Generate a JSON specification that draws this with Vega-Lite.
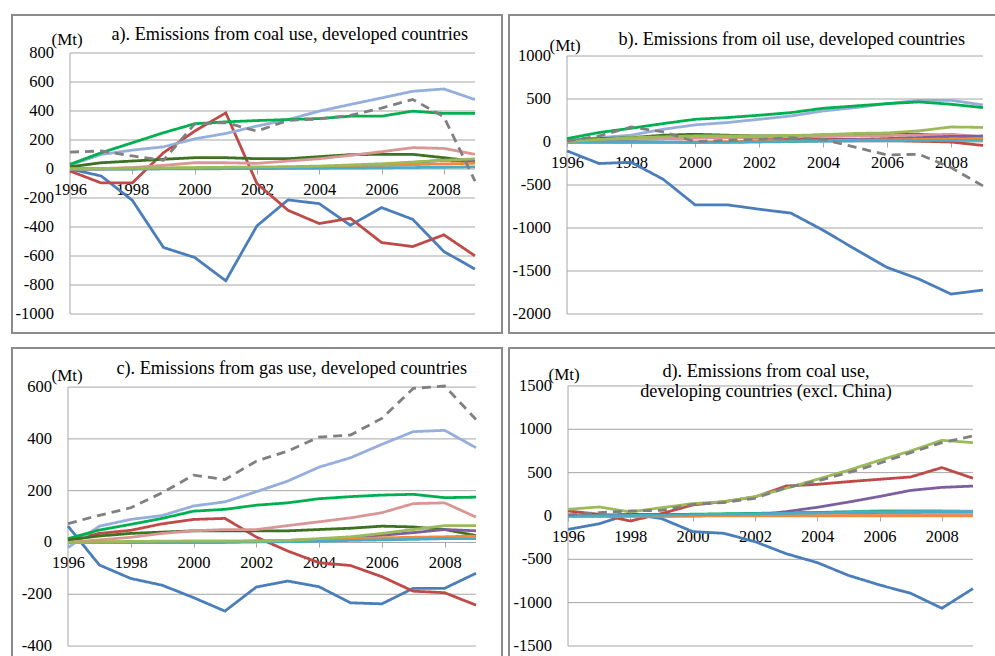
{
"$schema": "https://vega.github.io/schema/vega-lite/v6.json",
"padding": {"left": 11, "top": 14, "right": 0, "bottom": 0},
"background": "white",
"datasets": {
"a": [
{"series":"blue","year":1996,"value":0},{"series":"blue","year":1997,"value":-48},{"series":"blue","year":1998,"value":-216},{"series":"blue","year":1999,"value":-541},{"series":"blue","year":2000,"value":-610},{"series":"blue","year":2001,"value":-771},{"series":"blue","year":2002,"value":-392},{"series":"blue","year":2003,"value":-213},{"series":"blue","year":2004,"value":-239},{"series":"blue","year":2005,"value":-388},{"series":"blue","year":2006,"value":-266},{"series":"blue","year":2007,"value":-347},{"series":"blue","year":2008,"value":-569},{"series":"blue","year":2009,"value":-690},
{"series":"red","year":1996,"value":-14},{"series":"red","year":1997,"value":-96},{"series":"red","year":1998,"value":-96},{"series":"red","year":1999,"value":112},{"series":"red","year":2000,"value":261},{"series":"red","year":2001,"value":387},{"series":"red","year":2002,"value":-100},{"series":"red","year":2003,"value":-285},{"series":"red","year":2004,"value":-376},{"series":"red","year":2005,"value":-340},{"series":"red","year":2006,"value":-507},{"series":"red","year":2007,"value":-535},{"series":"red","year":2008,"value":-454},{"series":"red","year":2009,"value":-599},
{"series":"lightblue","year":1996,"value":27},{"series":"lightblue","year":1997,"value":100},{"series":"lightblue","year":1998,"value":130},{"series":"lightblue","year":1999,"value":153},{"series":"lightblue","year":2000,"value":208},{"series":"lightblue","year":2001,"value":245},{"series":"lightblue","year":2002,"value":296},{"series":"lightblue","year":2003,"value":341},{"series":"lightblue","year":2004,"value":399},{"series":"lightblue","year":2005,"value":445},{"series":"lightblue","year":2006,"value":490},{"series":"lightblue","year":2007,"value":536},{"series":"lightblue","year":2008,"value":552},{"series":"lightblue","year":2009,"value":479},
{"series":"green","year":1996,"value":32},{"series":"green","year":1997,"value":112},{"series":"green","year":1998,"value":181},{"series":"green","year":1999,"value":250},{"series":"green","year":2000,"value":312},{"series":"green","year":2001,"value":325},{"series":"green","year":2002,"value":334},{"series":"green","year":2003,"value":341},{"series":"green","year":2004,"value":348},{"series":"green","year":2005,"value":364},{"series":"green","year":2006,"value":364},{"series":"green","year":2007,"value":399},{"series":"green","year":2008,"value":383},{"series":"green","year":2009,"value":383},
{"series":"darkgreen","year":1996,"value":15},{"series":"darkgreen","year":1997,"value":43},{"series":"darkgreen","year":1998,"value":55},{"series":"darkgreen","year":1999,"value":67},{"series":"darkgreen","year":2000,"value":78},{"series":"darkgreen","year":2001,"value":78},{"series":"darkgreen","year":2002,"value":71},{"series":"darkgreen","year":2003,"value":71},{"series":"darkgreen","year":2004,"value":85},{"series":"darkgreen","year":2005,"value":99},{"series":"darkgreen","year":2006,"value":101},{"series":"darkgreen","year":2007,"value":101},{"series":"darkgreen","year":2008,"value":78},{"series":"darkgreen","year":2009,"value":53},
{"series":"pink","year":1996,"value":0},{"series":"pink","year":1997,"value":3},{"series":"pink","year":1998,"value":10},{"series":"pink","year":1999,"value":25},{"series":"pink","year":2000,"value":43},{"series":"pink","year":2001,"value":43},{"series":"pink","year":2002,"value":39},{"series":"pink","year":2003,"value":55},{"series":"pink","year":2004,"value":71},{"series":"pink","year":2005,"value":94},{"series":"pink","year":2006,"value":119},{"series":"pink","year":2007,"value":147},{"series":"pink","year":2008,"value":142},{"series":"pink","year":2009,"value":101},
{"series":"purple","year":1996,"value":0},{"series":"purple","year":1997,"value":0},{"series":"purple","year":1998,"value":1},{"series":"purple","year":1999,"value":2},{"series":"purple","year":2000,"value":3},{"series":"purple","year":2001,"value":4},{"series":"purple","year":2002,"value":5},{"series":"purple","year":2003,"value":8},{"series":"purple","year":2004,"value":12},{"series":"purple","year":2005,"value":20},{"series":"purple","year":2006,"value":30},{"series":"purple","year":2007,"value":45},{"series":"purple","year":2008,"value":60},{"series":"purple","year":2009,"value":55},
{"series":"orange","year":1996,"value":0},{"series":"orange","year":1997,"value":0},{"series":"orange","year":1998,"value":2},{"series":"orange","year":1999,"value":4},{"series":"orange","year":2000,"value":6},{"series":"orange","year":2001,"value":8},{"series":"orange","year":2002,"value":10},{"series":"orange","year":2003,"value":12},{"series":"orange","year":2004,"value":16},{"series":"orange","year":2005,"value":20},{"series":"orange","year":2006,"value":24},{"series":"orange","year":2007,"value":30},{"series":"orange","year":2008,"value":35},{"series":"orange","year":2009,"value":40},
{"series":"teal","year":1996,"value":0},{"series":"teal","year":1997,"value":0},{"series":"teal","year":1998,"value":0},{"series":"teal","year":1999,"value":1},{"series":"teal","year":2000,"value":1},{"series":"teal","year":2001,"value":2},{"series":"teal","year":2002,"value":3},{"series":"teal","year":2003,"value":4},{"series":"teal","year":2004,"value":5},{"series":"teal","year":2005,"value":6},{"series":"teal","year":2006,"value":8},{"series":"teal","year":2007,"value":10},{"series":"teal","year":2008,"value":12},{"series":"teal","year":2009,"value":15},
{"series":"olive","year":1996,"value":0},{"series":"olive","year":1997,"value":3},{"series":"olive","year":1998,"value":6},{"series":"olive","year":1999,"value":8},{"series":"olive","year":2000,"value":10},{"series":"olive","year":2001,"value":12},{"series":"olive","year":2002,"value":14},{"series":"olive","year":2003,"value":16},{"series":"olive","year":2004,"value":20},{"series":"olive","year":2005,"value":28},{"series":"olive","year":2006,"value":36},{"series":"olive","year":2007,"value":48},{"series":"olive","year":2008,"value":60},{"series":"olive","year":2009,"value":70},
{"series":"total","year":1996,"value":117},{"series":"total","year":1997,"value":124},{"series":"total","year":1998,"value":90},{"series":"total","year":1999,"value":60},{"series":"total","year":2000,"value":310},{"series":"total","year":2001,"value":320},{"series":"total","year":2002,"value":261},{"series":"total","year":2003,"value":335},{"series":"total","year":2004,"value":345},{"series":"total","year":2005,"value":370},{"series":"total","year":2006,"value":420},{"series":"total","year":2007,"value":480},{"series":"total","year":2008,"value":360},{"series":"total","year":2009,"value":-83}
],
"b": [
{"series":"blue","year":1996,"value":-103},{"series":"blue","year":1997,"value":-250},{"series":"blue","year":1998,"value":-235},{"series":"blue","year":1999,"value":-432},{"series":"blue","year":2000,"value":-730},{"series":"blue","year":2001,"value":-730},{"series":"blue","year":2002,"value":-781},{"series":"blue","year":2003,"value":-827},{"series":"blue","year":2004,"value":-1025},{"series":"blue","year":2005,"value":-1245},{"series":"blue","year":2006,"value":-1458},{"series":"blue","year":2007,"value":-1594},{"series":"blue","year":2008,"value":-1768},{"series":"blue","year":2009,"value":-1722},
{"series":"red","year":1996,"value":0},{"series":"red","year":1997,"value":20},{"series":"red","year":1998,"value":30},{"series":"red","year":1999,"value":40},{"series":"red","year":2000,"value":50},{"series":"red","year":2001,"value":55},{"series":"red","year":2002,"value":45},{"series":"red","year":2003,"value":40},{"series":"red","year":2004,"value":35},{"series":"red","year":2005,"value":30},{"series":"red","year":2006,"value":20},{"series":"red","year":2007,"value":10},{"series":"red","year":2008,"value":0},{"series":"red","year":2009,"value":-40},
{"series":"lightblue","year":1996,"value":20},{"series":"lightblue","year":1997,"value":50},{"series":"lightblue","year":1998,"value":79},{"series":"lightblue","year":1999,"value":148},{"series":"lightblue","year":2000,"value":199},{"series":"lightblue","year":2001,"value":226},{"series":"lightblue","year":2002,"value":264},{"series":"lightblue","year":2003,"value":303},{"series":"lightblue","year":2004,"value":361},{"series":"lightblue","year":2005,"value":400},{"series":"lightblue","year":2006,"value":446},{"series":"lightblue","year":2007,"value":485},{"series":"lightblue","year":2008,"value":485},{"series":"lightblue","year":2009,"value":431},
{"series":"green","year":1996,"value":40},{"series":"green","year":1997,"value":110},{"series":"green","year":1998,"value":160},{"series":"green","year":1999,"value":214},{"series":"green","year":2000,"value":264},{"series":"green","year":2001,"value":284},{"series":"green","year":2002,"value":311},{"series":"green","year":2003,"value":342},{"series":"green","year":2004,"value":392},{"series":"green","year":2005,"value":419},{"series":"green","year":2006,"value":446},{"series":"green","year":2007,"value":466},{"series":"green","year":2008,"value":439},{"series":"green","year":2009,"value":400},
{"series":"darkgreen","year":1996,"value":12},{"series":"darkgreen","year":1997,"value":40},{"series":"darkgreen","year":1998,"value":50},{"series":"darkgreen","year":1999,"value":79},{"series":"darkgreen","year":2000,"value":90},{"series":"darkgreen","year":2001,"value":79},{"series":"darkgreen","year":2002,"value":70},{"series":"darkgreen","year":2003,"value":70},{"series":"darkgreen","year":2004,"value":82},{"series":"darkgreen","year":2005,"value":90},{"series":"darkgreen","year":2006,"value":90},{"series":"darkgreen","year":2007,"value":90},{"series":"darkgreen","year":2008,"value":70},{"series":"darkgreen","year":2009,"value":50},
{"series":"pink","year":1996,"value":0},{"series":"pink","year":1997,"value":20},{"series":"pink","year":1998,"value":35},{"series":"pink","year":1999,"value":40},{"series":"pink","year":2000,"value":45},{"series":"pink","year":2001,"value":50},{"series":"pink","year":2002,"value":55},{"series":"pink","year":2003,"value":60},{"series":"pink","year":2004,"value":65},{"series":"pink","year":2005,"value":70},{"series":"pink","year":2006,"value":75},{"series":"pink","year":2007,"value":80},{"series":"pink","year":2008,"value":90},{"series":"pink","year":2009,"value":60},
{"series":"purple","year":1996,"value":0},{"series":"purple","year":1997,"value":0},{"series":"purple","year":1998,"value":0},{"series":"purple","year":1999,"value":-2},{"series":"purple","year":2000,"value":-3},{"series":"purple","year":2001,"value":0},{"series":"purple","year":2002,"value":5},{"series":"purple","year":2003,"value":10},{"series":"purple","year":2004,"value":20},{"series":"purple","year":2005,"value":30},{"series":"purple","year":2006,"value":40},{"series":"purple","year":2007,"value":50},{"series":"purple","year":2008,"value":65},{"series":"purple","year":2009,"value":70},
{"series":"orange","year":1996,"value":0},{"series":"orange","year":1997,"value":0},{"series":"orange","year":1998,"value":-5},{"series":"orange","year":1999,"value":-5},{"series":"orange","year":2000,"value":0},{"series":"orange","year":2001,"value":5},{"series":"orange","year":2002,"value":10},{"series":"orange","year":2003,"value":10},{"series":"orange","year":2004,"value":15},{"series":"orange","year":2005,"value":20},{"series":"orange","year":2006,"value":25},{"series":"orange","year":2007,"value":30},{"series":"orange","year":2008,"value":35},{"series":"orange","year":2009,"value":40},
{"series":"teal","year":1996,"value":0},{"series":"teal","year":1997,"value":0},{"series":"teal","year":1998,"value":0},{"series":"teal","year":1999,"value":0},{"series":"teal","year":2000,"value":-5},{"series":"teal","year":2001,"value":-5},{"series":"teal","year":2002,"value":0},{"series":"teal","year":2003,"value":5},{"series":"teal","year":2004,"value":10},{"series":"teal","year":2005,"value":15},{"series":"teal","year":2006,"value":15},{"series":"teal","year":2007,"value":20},{"series":"teal","year":2008,"value":20},{"series":"teal","year":2009,"value":20},
{"series":"olive","year":1996,"value":5},{"series":"olive","year":1997,"value":30},{"series":"olive","year":1998,"value":50},{"series":"olive","year":1999,"value":60},{"series":"olive","year":2000,"value":70},{"series":"olive","year":2001,"value":70},{"series":"olive","year":2002,"value":70},{"series":"olive","year":2003,"value":75},{"series":"olive","year":2004,"value":85},{"series":"olive","year":2005,"value":100},{"series":"olive","year":2006,"value":105},{"series":"olive","year":2007,"value":130},{"series":"olive","year":2008,"value":175},{"series":"olive","year":2009,"value":170},
{"series":"total","year":1996,"value":12},{"series":"total","year":1997,"value":70},{"series":"total","year":1998,"value":175},{"series":"total","year":1999,"value":117},{"series":"total","year":2000,"value":5},{"series":"total","year":2001,"value":20},{"series":"total","year":2002,"value":30},{"series":"total","year":2003,"value":50},{"series":"total","year":2004,"value":30},{"series":"total","year":2005,"value":-60},{"series":"total","year":2006,"value":-150},{"series":"total","year":2007,"value":-142},{"series":"total","year":2008,"value":-297},{"series":"total","year":2009,"value":-510}
],
"c": [
{"series":"blue","year":1996,"value":63},{"series":"blue","year":1997,"value":-87},{"series":"blue","year":1998,"value":-139},{"series":"blue","year":1999,"value":-165},{"series":"blue","year":2000,"value":-213},{"series":"blue","year":2001,"value":-265},{"series":"blue","year":2002,"value":-172},{"series":"blue","year":2003,"value":-149},{"series":"blue","year":2004,"value":-171},{"series":"blue","year":2005,"value":-233},{"series":"blue","year":2006,"value":-237},{"series":"blue","year":2007,"value":-177},{"series":"blue","year":2008,"value":-177},{"series":"blue","year":2009,"value":-119},
{"series":"red","year":1996,"value":8},{"series":"red","year":1997,"value":35},{"series":"red","year":1998,"value":47},{"series":"red","year":1999,"value":72},{"series":"red","year":2000,"value":89},{"series":"red","year":2001,"value":93},{"series":"red","year":2002,"value":21},{"series":"red","year":2003,"value":-33},{"series":"red","year":2004,"value":-78},{"series":"red","year":2005,"value":-89},{"series":"red","year":2006,"value":-132},{"series":"red","year":2007,"value":-188},{"series":"red","year":2008,"value":-194},{"series":"red","year":2009,"value":-242},
{"series":"lightblue","year":1996,"value":-20},{"series":"lightblue","year":1997,"value":63},{"series":"lightblue","year":1998,"value":89},{"series":"lightblue","year":1999,"value":104},{"series":"lightblue","year":2000,"value":141},{"series":"lightblue","year":2001,"value":157},{"series":"lightblue","year":2002,"value":196},{"series":"lightblue","year":2003,"value":237},{"series":"lightblue","year":2004,"value":291},{"series":"lightblue","year":2005,"value":327},{"series":"lightblue","year":2006,"value":379},{"series":"lightblue","year":2007,"value":428},{"series":"lightblue","year":2008,"value":433},{"series":"lightblue","year":2009,"value":366},
{"series":"green","year":1996,"value":15},{"series":"green","year":1997,"value":48},{"series":"green","year":1998,"value":70},{"series":"green","year":1999,"value":93},{"series":"green","year":2000,"value":121},{"series":"green","year":2001,"value":128},{"series":"green","year":2002,"value":144},{"series":"green","year":2003,"value":153},{"series":"green","year":2004,"value":169},{"series":"green","year":2005,"value":177},{"series":"green","year":2006,"value":183},{"series":"green","year":2007,"value":186},{"series":"green","year":2008,"value":173},{"series":"green","year":2009,"value":175},
{"series":"darkgreen","year":1996,"value":10},{"series":"darkgreen","year":1997,"value":25},{"series":"darkgreen","year":1998,"value":35},{"series":"darkgreen","year":1999,"value":40},{"series":"darkgreen","year":2000,"value":45},{"series":"darkgreen","year":2001,"value":45},{"series":"darkgreen","year":2002,"value":45},{"series":"darkgreen","year":2003,"value":45},{"series":"darkgreen","year":2004,"value":50},{"series":"darkgreen","year":2005,"value":55},{"series":"darkgreen","year":2006,"value":63},{"series":"darkgreen","year":2007,"value":60},{"series":"darkgreen","year":2008,"value":50},{"series":"darkgreen","year":2009,"value":27},
{"series":"pink","year":1996,"value":0},{"series":"pink","year":1997,"value":10},{"series":"pink","year":1998,"value":20},{"series":"pink","year":1999,"value":35},{"series":"pink","year":2000,"value":45},{"series":"pink","year":2001,"value":50},{"series":"pink","year":2002,"value":50},{"series":"pink","year":2003,"value":65},{"series":"pink","year":2004,"value":80},{"series":"pink","year":2005,"value":95},{"series":"pink","year":2006,"value":115},{"series":"pink","year":2007,"value":150},{"series":"pink","year":2008,"value":153},{"series":"pink","year":2009,"value":98},
{"series":"purple","year":1996,"value":0},{"series":"purple","year":1997,"value":0},{"series":"purple","year":1998,"value":0},{"series":"purple","year":1999,"value":0},{"series":"purple","year":2000,"value":0},{"series":"purple","year":2001,"value":2},{"series":"purple","year":2002,"value":5},{"series":"purple","year":2003,"value":8},{"series":"purple","year":2004,"value":12},{"series":"purple","year":2005,"value":18},{"series":"purple","year":2006,"value":28},{"series":"purple","year":2007,"value":38},{"series":"purple","year":2008,"value":50},{"series":"purple","year":2009,"value":45},
{"series":"orange","year":1996,"value":0},{"series":"orange","year":1997,"value":2},{"series":"orange","year":1998,"value":3},{"series":"orange","year":1999,"value":4},{"series":"orange","year":2000,"value":5},{"series":"orange","year":2001,"value":5},{"series":"orange","year":2002,"value":6},{"series":"orange","year":2003,"value":8},{"series":"orange","year":2004,"value":10},{"series":"orange","year":2005,"value":14},{"series":"orange","year":2006,"value":18},{"series":"orange","year":2007,"value":20},{"series":"orange","year":2008,"value":22},{"series":"orange","year":2009,"value":25},
{"series":"teal","year":1996,"value":0},{"series":"teal","year":1997,"value":0},{"series":"teal","year":1998,"value":0},{"series":"teal","year":1999,"value":0},{"series":"teal","year":2000,"value":0},{"series":"teal","year":2001,"value":0},{"series":"teal","year":2002,"value":2},{"series":"teal","year":2003,"value":3},{"series":"teal","year":2004,"value":5},{"series":"teal","year":2005,"value":8},{"series":"teal","year":2006,"value":10},{"series":"teal","year":2007,"value":12},{"series":"teal","year":2008,"value":15},{"series":"teal","year":2009,"value":15},
{"series":"olive","year":1996,"value":0},{"series":"olive","year":1997,"value":2},{"series":"olive","year":1998,"value":4},{"series":"olive","year":1999,"value":5},{"series":"olive","year":2000,"value":5},{"series":"olive","year":2001,"value":5},{"series":"olive","year":2002,"value":5},{"series":"olive","year":2003,"value":8},{"series":"olive","year":2004,"value":15},{"series":"olive","year":2005,"value":22},{"series":"olive","year":2006,"value":35},{"series":"olive","year":2007,"value":50},{"series":"olive","year":2008,"value":65},{"series":"olive","year":2009,"value":65},
{"series":"total","year":1996,"value":73},{"series":"total","year":1997,"value":105},{"series":"total","year":1998,"value":134},{"series":"total","year":1999,"value":192},{"series":"total","year":2000,"value":260},{"series":"total","year":2001,"value":243},{"series":"total","year":2002,"value":314},{"series":"total","year":2003,"value":353},{"series":"total","year":2004,"value":407},{"series":"total","year":2005,"value":415},{"series":"total","year":2006,"value":479},{"series":"total","year":2007,"value":595},{"series":"total","year":2008,"value":604},{"series":"total","year":2009,"value":475}
],
"d": [
{"series":"blue","year":1996,"value":-155},{"series":"blue","year":1997,"value":-90},{"series":"blue","year":1998,"value":25},{"series":"blue","year":1999,"value":-30},{"series":"blue","year":2000,"value":-180},{"series":"blue","year":2001,"value":-200},{"series":"blue","year":2002,"value":-296},{"series":"blue","year":2003,"value":-435},{"series":"blue","year":2004,"value":-538},{"series":"blue","year":2005,"value":-685},{"series":"blue","year":2006,"value":-796},{"series":"blue","year":2007,"value":-892},{"series":"blue","year":2008,"value":-1065},{"series":"blue","year":2009,"value":-838},
{"series":"red","year":1996,"value":58},{"series":"red","year":1997,"value":19},{"series":"red","year":1998,"value":-58},{"series":"red","year":1999,"value":27},{"series":"red","year":2000,"value":127},{"series":"red","year":2001,"value":165},{"series":"red","year":2002,"value":219},{"series":"red","year":2003,"value":346},{"series":"red","year":2004,"value":365},{"series":"red","year":2005,"value":396},{"series":"red","year":2006,"value":423},{"series":"red","year":2007,"value":450},{"series":"red","year":2008,"value":558},{"series":"red","year":2009,"value":435},
{"series":"lightblue","year":1996,"value":0},{"series":"lightblue","year":1997,"value":0},{"series":"lightblue","year":1998,"value":5},{"series":"lightblue","year":1999,"value":10},{"series":"lightblue","year":2000,"value":15},{"series":"lightblue","year":2001,"value":20},{"series":"lightblue","year":2002,"value":25},{"series":"lightblue","year":2003,"value":30},{"series":"lightblue","year":2004,"value":40},{"series":"lightblue","year":2005,"value":50},{"series":"lightblue","year":2006,"value":60},{"series":"lightblue","year":2007,"value":60},{"series":"lightblue","year":2008,"value":60},{"series":"lightblue","year":2009,"value":55},
{"series":"green","year":1996,"value":0},{"series":"green","year":1997,"value":5},{"series":"green","year":1998,"value":10},{"series":"green","year":1999,"value":15},{"series":"green","year":2000,"value":20},{"series":"green","year":2001,"value":25},{"series":"green","year":2002,"value":30},{"series":"green","year":2003,"value":35},{"series":"green","year":2004,"value":40},{"series":"green","year":2005,"value":45},{"series":"green","year":2006,"value":50},{"series":"green","year":2007,"value":50},{"series":"green","year":2008,"value":45},{"series":"green","year":2009,"value":40},
{"series":"darkgreen","year":1996,"value":10},{"series":"darkgreen","year":1997,"value":12},{"series":"darkgreen","year":1998,"value":15},{"series":"darkgreen","year":1999,"value":15},{"series":"darkgreen","year":2000,"value":15},{"series":"darkgreen","year":2001,"value":15},{"series":"darkgreen","year":2002,"value":18},{"series":"darkgreen","year":2003,"value":18},{"series":"darkgreen","year":2004,"value":20},{"series":"darkgreen","year":2005,"value":20},{"series":"darkgreen","year":2006,"value":20},{"series":"darkgreen","year":2007,"value":20},{"series":"darkgreen","year":2008,"value":20},{"series":"darkgreen","year":2009,"value":20},
{"series":"pink","year":1996,"value":0},{"series":"pink","year":1997,"value":0},{"series":"pink","year":1998,"value":0},{"series":"pink","year":1999,"value":0},{"series":"pink","year":2000,"value":2},{"series":"pink","year":2001,"value":4},{"series":"pink","year":2002,"value":6},{"series":"pink","year":2003,"value":8},{"series":"pink","year":2004,"value":10},{"series":"pink","year":2005,"value":12},{"series":"pink","year":2006,"value":14},{"series":"pink","year":2007,"value":16},{"series":"pink","year":2008,"value":18},{"series":"pink","year":2009,"value":20},
{"series":"purple","year":1996,"value":0},{"series":"purple","year":1997,"value":0},{"series":"purple","year":1998,"value":0},{"series":"purple","year":1999,"value":0},{"series":"purple","year":2000,"value":2},{"series":"purple","year":2001,"value":5},{"series":"purple","year":2002,"value":10},{"series":"purple","year":2003,"value":50},{"series":"purple","year":2004,"value":100},{"series":"purple","year":2005,"value":160},{"series":"purple","year":2006,"value":225},{"series":"purple","year":2007,"value":295},{"series":"purple","year":2008,"value":330},{"series":"purple","year":2009,"value":345},
{"series":"orange","year":1996,"value":0},{"series":"orange","year":1997,"value":-5},{"series":"orange","year":1998,"value":-5},{"series":"orange","year":1999,"value":-5},{"series":"orange","year":2000,"value":0},{"series":"orange","year":2001,"value":0},{"series":"orange","year":2002,"value":0},{"series":"orange","year":2003,"value":0},{"series":"orange","year":2004,"value":0},{"series":"orange","year":2005,"value":0},{"series":"orange","year":2006,"value":0},{"series":"orange","year":2007,"value":0},{"series":"orange","year":2008,"value":0},{"series":"orange","year":2009,"value":0},
{"series":"teal","year":1996,"value":0},{"series":"teal","year":1997,"value":0},{"series":"teal","year":1998,"value":5},{"series":"teal","year":1999,"value":10},{"series":"teal","year":2000,"value":15},{"series":"teal","year":2001,"value":20},{"series":"teal","year":2002,"value":25},{"series":"teal","year":2003,"value":30},{"series":"teal","year":2004,"value":35},{"series":"teal","year":2005,"value":40},{"series":"teal","year":2006,"value":45},{"series":"teal","year":2007,"value":50},{"series":"teal","year":2008,"value":50},{"series":"teal","year":2009,"value":50},
{"series":"olive","year":1996,"value":77},{"series":"olive","year":1997,"value":104},{"series":"olive","year":1998,"value":46},{"series":"olive","year":1999,"value":96},{"series":"olive","year":2000,"value":142},{"series":"olive","year":2001,"value":165},{"series":"olive","year":2002,"value":223},{"series":"olive","year":2003,"value":319},{"series":"olive","year":2004,"value":423},{"series":"olive","year":2005,"value":527},{"series":"olive","year":2006,"value":642},{"series":"olive","year":2007,"value":750},{"series":"olive","year":2008,"value":873},{"series":"olive","year":2009,"value":846},
{"series":"total","year":1996,"value":12},{"series":"total","year":1997,"value":38},{"series":"total","year":1998,"value":58},{"series":"total","year":1999,"value":65},{"series":"total","year":2000,"value":135},{"series":"total","year":2001,"value":154},{"series":"total","year":2002,"value":204},{"series":"total","year":2003,"value":327},{"series":"total","year":2004,"value":404},{"series":"total","year":2005,"value":500},{"series":"total","year":2006,"value":608},{"series":"total","year":2007,"value":731},{"series":"total","year":2008,"value":846},{"series":"total","year":2009,"value":923}
]
},
"columns": 2,
"spacing": {"row": 15, "column": 7},
"bounds": "flush",
"concat": [
{
"width": 490, "height": 318,
"title": {"text": "a). Emissions from coal use, developed countries", "anchor": "end", "frame": "group", "offset": -43, "baseline": "alphabetic", "dx": -34, "font": "Liberation Serif", "fontSize": 18.2, "fontWeight": "normal", "color": "#000000"},
"layer": [
{"data": {"values": [{"value":-1000},{"value":-800},{"value":-600},{"value":-400},{"value":-200},{"value":0},{"value":200},{"value":400},{"value":600},{"value":800}]},
 "mark": {"type": "rule", "color": "#a6a6a6", "strokeWidth": 1},
 "encoding": {"x": {"datum": 1996, "type": "quantitative", "scale": {"domain": [1994.138, 2009.867], "nice": false, "zero": false}}, "x2": {"datum": 2009}, "y": {"field": "value", "type": "quantitative", "scale": {"domain": [-1131, 1062], "nice": false, "zero": false}}}},
{"data": {"values": [{"value":-1000},{"value":-800},{"value":-600},{"value":-400},{"value":-200},{"value":0},{"value":200},{"value":400},{"value":600},{"value":800}]},
 "mark": {"type": "text", "align": "right", "baseline": "middle", "dx": -16, "font": "Liberation Serif", "fontSize": 16.5, "color": "#000000"},
 "encoding": {"x": {"datum": 1996, "type": "quantitative"}, "y": {"field": "value", "type": "quantitative"}, "text": {"field": "value", "type": "nominal"}}},
{"data": {"values": [{}]}, "mark": {"type": "rule", "color": "#a6a6a6", "strokeWidth": 1},
 "encoding": {"x": {"datum": 1996, "type": "quantitative"}, "y": {"datum": -1000, "type": "quantitative"}, "y2": {"datum": 800}}},
{"data": {"name": "a"}, "mark": {"type": "line", "strokeWidth": 2.8},
 "encoding": {
  "x": {"field": "year", "type": "quantitative", "axis": {"values": [1996,1997,1998,1999,2000,2001,2002,2003,2004,2005,2006,2007,2008,2009], "offset": -164, "grid": false, "domain": false, "ticks": true, "tickSize": 5, "tickColor": "#a6a6a6", "tickWidth": 1, "labelPadding": 7, "labelFont": "Liberation Serif", "labelFontSize": 16.5, "labelColor": "#000000", "labelOverlap": false, "labelFlush": false, "labelBound": false, "labelExpr": "datum.value % 2 == 0 ? '' + datum.value : ''", "title": null}},
  "y": {"field": "value", "type": "quantitative", "axis": {"values": [0], "offset": -58, "grid": false, "domain": false, "ticks": false, "labels": false, "title": "(Mt)", "titleFont": "Liberation Serif", "titleFontSize": 17, "titleFontWeight": "normal", "titleColor": "#000000", "titleAngle": 0, "titleAlign": "left", "titleBaseline": "middle", "titleX": -19, "titleY": 24}},
  "color": {"field": "series", "type": "nominal", "legend": null, "scale": {"domain": ["blue","red","lightblue","green","darkgreen","pink","purple","orange","teal","olive","total"], "range": ["#4A7EBB","#BE4B48","#95AEDB","#00B050","#3D7320","#D99694","#7D5FA0","#F08A3C","#4BACC6","#9BBB59","#808080"]}},
  "strokeDash": {"field": "series", "type": "nominal", "legend": null, "scale": {"domain": ["blue","red","lightblue","green","darkgreen","pink","purple","orange","teal","olive","total"], "range": [[1,0],[1,0],[1,0],[1,0],[1,0],[1,0],[1,0],[1,0],[1,0],[1,0],[9,6]]}}
 }}
]
},
{
"width": 490, "height": 318,
"title": {"text": "b). Emissions from oil use, developed countries", "anchor": "end", "frame": "group", "offset": -48, "baseline": "alphabetic", "dx": -34, "font": "Liberation Serif", "fontSize": 18.2, "fontWeight": "normal", "color": "#000000"},
"layer": [
{"data": {"values": [{"value":-2000},{"value":-1500},{"value":-1000},{"value":-500},{"value":0},{"value":500},{"value":1000}]},
 "mark": {"type": "rule", "color": "#a6a6a6", "strokeWidth": 1},
 "encoding": {"x": {"datum": 1996, "type": "quantitative", "scale": {"domain": [1994.1875, 2009.5], "nice": false, "zero": false}}, "x2": {"datum": 2009}, "y": {"field": "value", "type": "quantitative", "scale": {"domain": [-2221, 1477], "nice": false, "zero": false}}}},
{"data": {"values": [{"value":-2000},{"value":-1500},{"value":-1000},{"value":-500},{"value":0},{"value":500},{"value":1000}]},
 "mark": {"type": "text", "align": "right", "baseline": "middle", "dx": -16, "font": "Liberation Serif", "fontSize": 16.5, "color": "#000000"},
 "encoding": {"x": {"datum": 1996, "type": "quantitative"}, "y": {"field": "value", "type": "quantitative"}, "text": {"field": "value", "type": "nominal"}}},
{"data": {"values": [{}]}, "mark": {"type": "rule", "color": "#a6a6a6", "strokeWidth": 1},
 "encoding": {"x": {"datum": 1996, "type": "quantitative"}, "y": {"datum": -2000, "type": "quantitative"}, "y2": {"datum": 1000}}},
{"data": {"name": "b"}, "mark": {"type": "line", "strokeWidth": 2.8},
 "encoding": {
  "x": {"field": "year", "type": "quantitative", "axis": {"values": [1996,1997,1998,1999,2000,2001,2002,2003,2004,2005,2006,2007,2008,2009], "offset": -191, "grid": false, "domain": false, "ticks": true, "tickSize": 5, "tickColor": "#a6a6a6", "tickWidth": 1, "labelPadding": 7, "labelFont": "Liberation Serif", "labelFontSize": 16.5, "labelColor": "#000000", "labelOverlap": false, "labelFlush": false, "labelBound": false, "labelExpr": "datum.value % 2 == 0 ? '' + datum.value : ''", "title": null}},
  "y": {"field": "value", "type": "quantitative", "axis": {"values": [0], "offset": -58, "grid": false, "domain": false, "ticks": false, "labels": false, "title": "(Mt)", "titleFont": "Liberation Serif", "titleFontSize": 17, "titleFontWeight": "normal", "titleColor": "#000000", "titleAngle": 0, "titleAlign": "left", "titleBaseline": "middle", "titleX": -18, "titleY": 30}},
  "color": {"field": "series", "type": "nominal", "legend": null, "scale": {"domain": ["blue","red","lightblue","green","darkgreen","pink","purple","orange","teal","olive","total"], "range": ["#4A7EBB","#BE4B48","#95AEDB","#00B050","#3D7320","#D99694","#7D5FA0","#F08A3C","#4BACC6","#9BBB59","#808080"]}},
  "strokeDash": {"field": "series", "type": "nominal", "legend": null, "scale": {"domain": ["blue","red","lightblue","green","darkgreen","pink","purple","orange","teal","olive","total"], "range": [[1,0],[1,0],[1,0],[1,0],[1,0],[1,0],[1,0],[1,0],[1,0],[1,0],[9,6]]}}
 }}
]
},
{
"width": 490, "height": 318,
"title": {"text": "c). Emissions from gas use, developed countries", "anchor": "end", "frame": "group", "offset": -44, "baseline": "alphabetic", "dx": -35, "font": "Liberation Serif", "fontSize": 18.2, "fontWeight": "normal", "color": "#000000"},
"layer": [
{"data": {"values": [{"value":-400},{"value":-200},{"value":0},{"value":200},{"value":400},{"value":600}]},
 "mark": {"type": "rule", "color": "#a6a6a6", "strokeWidth": 1},
 "encoding": {"x": {"datum": 1996, "type": "quantitative", "scale": {"domain": [1994.216, 2009.828], "nice": false, "zero": false}}, "x2": {"datum": 2009}, "y": {"field": "value", "type": "quantitative", "scale": {"domain": [-477, 751], "nice": false, "zero": false}}}},
{"data": {"values": [{"value":-400},{"value":-200},{"value":0},{"value":200},{"value":400},{"value":600}]},
 "mark": {"type": "text", "align": "right", "baseline": "middle", "dx": -16, "font": "Liberation Serif", "fontSize": 16.5, "color": "#000000"},
 "encoding": {"x": {"datum": 1996, "type": "quantitative"}, "y": {"field": "value", "type": "quantitative"}, "text": {"field": "value", "type": "nominal"}}},
{"data": {"values": [{}]}, "mark": {"type": "rule", "color": "#a6a6a6", "strokeWidth": 1},
 "encoding": {"x": {"datum": 1996, "type": "quantitative"}, "y": {"datum": -400, "type": "quantitative"}, "y2": {"datum": 600}}},
{"data": {"name": "c"}, "mark": {"type": "line", "strokeWidth": 2.8},
 "encoding": {
  "x": {"field": "year", "type": "quantitative", "axis": {"values": [1996,1997,1998,1999,2000,2001,2002,2003,2004,2005,2006,2007,2008,2009], "offset": -124, "grid": false, "domain": false, "ticks": true, "tickSize": 5, "tickColor": "#a6a6a6", "tickWidth": 1, "labelPadding": 7, "labelFont": "Liberation Serif", "labelFontSize": 16.5, "labelColor": "#000000", "labelOverlap": false, "labelFlush": false, "labelBound": false, "labelExpr": "datum.value % 2 == 0 ? '' + datum.value : ''", "title": null}},
  "y": {"field": "value", "type": "quantitative", "axis": {"values": [0], "offset": -56, "grid": false, "domain": false, "ticks": false, "labels": false, "title": "(Mt)", "titleFont": "Liberation Serif", "titleFontSize": 17, "titleFontWeight": "normal", "titleColor": "#000000", "titleAngle": 0, "titleAlign": "left", "titleBaseline": "middle", "titleX": -17, "titleY": 27}},
  "color": {"field": "series", "type": "nominal", "legend": null, "scale": {"domain": ["blue","red","lightblue","green","darkgreen","pink","purple","orange","teal","olive","total"], "range": ["#4A7EBB","#BE4B48","#95AEDB","#00B050","#3D7320","#D99694","#7D5FA0","#F08A3C","#4BACC6","#9BBB59","#808080"]}},
  "strokeDash": {"field": "series", "type": "nominal", "legend": null, "scale": {"domain": ["blue","red","lightblue","green","darkgreen","pink","purple","orange","teal","olive","total"], "range": [[1,0],[1,0],[1,0],[1,0],[1,0],[1,0],[1,0],[1,0],[1,0],[1,0],[9,6]]}}
 }}
]
},
{
"width": 490, "height": 318,
"title": {"text": ["d). Emissions from coal use,", "developing  countries (excl. China)"], "anchor": "middle", "frame": "group", "offset": -67, "baseline": "alphabetic", "dx": 12, "lineHeight": 20, "font": "Liberation Serif", "fontSize": 18.2, "fontWeight": "normal", "color": "#000000"},
"layer": [
{"data": {"values": [{"value":-1500},{"value":-1000},{"value":-500},{"value":0},{"value":500},{"value":1000},{"value":1500}]},
 "mark": {"type": "rule", "color": "#a6a6a6", "strokeWidth": 1},
 "encoding": {"x": {"datum": 1996, "type": "quantitative", "scale": {"domain": [1994.106, 2009.835], "nice": false, "zero": false}}, "x2": {"datum": 2009}, "y": {"field": "value", "type": "quantitative", "scale": {"domain": [-1731, 1938], "nice": false, "zero": false}}}},
{"data": {"values": [{"value":-1500},{"value":-1000},{"value":-500},{"value":0},{"value":500},{"value":1000},{"value":1500}]},
 "mark": {"type": "text", "align": "right", "baseline": "middle", "dx": -16, "font": "Liberation Serif", "fontSize": 16.5, "color": "#000000"},
 "encoding": {"x": {"datum": 1996, "type": "quantitative"}, "y": {"field": "value", "type": "quantitative"}, "text": {"field": "value", "type": "nominal"}}},
{"data": {"values": [{}]}, "mark": {"type": "rule", "color": "#a6a6a6", "strokeWidth": 1},
 "encoding": {"x": {"datum": 1996, "type": "quantitative"}, "y": {"datum": -1500, "type": "quantitative"}, "y2": {"datum": 1500}}},
{"data": {"name": "d"}, "mark": {"type": "line", "strokeWidth": 2.8},
 "encoding": {
  "x": {"field": "year", "type": "quantitative", "axis": {"values": [1996,1997,1998,1999,2000,2001,2002,2003,2004,2005,2006,2007,2008,2009], "offset": -150, "grid": false, "domain": false, "ticks": true, "tickSize": 5, "tickColor": "#a6a6a6", "tickWidth": 1, "labelPadding": 7, "labelFont": "Liberation Serif", "labelFontSize": 16.5, "labelColor": "#000000", "labelOverlap": false, "labelFlush": false, "labelBound": false, "labelExpr": "datum.value % 2 == 0 ? '' + datum.value : ''", "title": null}},
  "y": {"field": "value", "type": "quantitative", "axis": {"values": [0], "offset": -59, "grid": false, "domain": false, "ticks": false, "labels": false, "title": "(Mt)", "titleFont": "Liberation Serif", "titleFontSize": 17, "titleFontWeight": "normal", "titleColor": "#000000", "titleAngle": 0, "titleAlign": "left", "titleBaseline": "middle", "titleX": -20, "titleY": 26}},
  "color": {"field": "series", "type": "nominal", "legend": null, "scale": {"domain": ["blue","red","lightblue","green","darkgreen","pink","purple","orange","teal","olive","total"], "range": ["#4A7EBB","#BE4B48","#95AEDB","#00B050","#3D7320","#D99694","#7D5FA0","#F08A3C","#4BACC6","#9BBB59","#808080"]}},
  "strokeDash": {"field": "series", "type": "nominal", "legend": null, "scale": {"domain": ["blue","red","lightblue","green","darkgreen","pink","purple","orange","teal","olive","total"], "range": [[1,0],[1,0],[1,0],[1,0],[1,0],[1,0],[1,0],[1,0],[1,0],[1,0],[9,6]]}}
 }}
]
}
],
"config": {
 "view": {"stroke": "#8c8c8c", "strokeWidth": 2},
 "font": "Liberation Serif"
}
}
